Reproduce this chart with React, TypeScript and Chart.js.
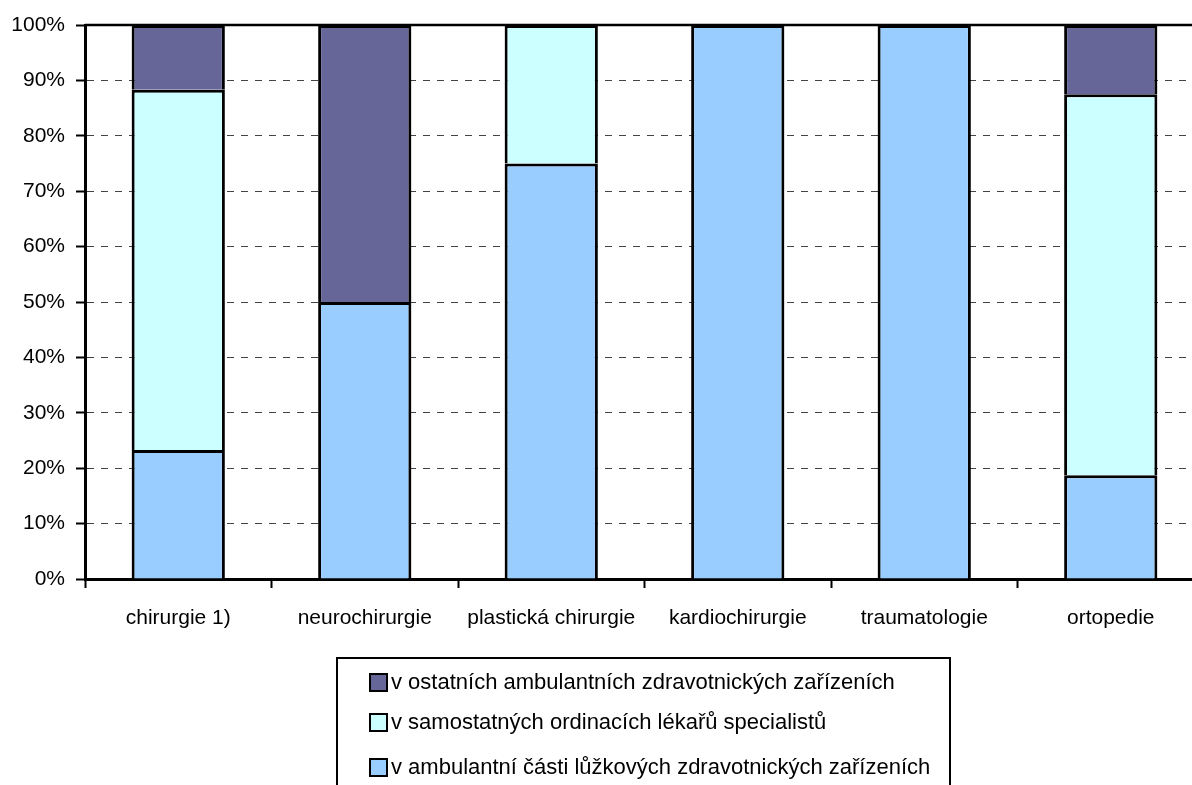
import React, { useEffect, useRef } from "react";
import { Chart, registerables } from "chart.js";

Chart.register(...registerables);

const categories = [
  "chirurgie 1)",
  "neurochirurgie",
  "plastická chirurgie",
  "kardiochirurgie",
  "traumatologie",
  "ortopedie",
];

const seriesLabels = [
  "v ambulantní části lůžkových zdravotnických zařízeních",
  "v samostatných ordinacích lékařů specialistů",
  "v ostatních ambulantních zdravotnických zařízeních",
];

const ambulantniCastiValues = [23.3, 50, 75, 100, 100, 18.75];
const samostatnychValues = [65.0, 0, 25, 0, 0, 68.75];
const ostatnichValues = [11.7, 50, 0, 0, 0, 12.5];

const seriesColors = ["#99CCFF", "#CCFFFF", "#666699"];

const yTicks = [0, 10, 20, 30, 40, 50, 60, 70, 80, 90, 100];

const FONT = '"Liberation Sans", Arial, sans-serif';

const nz = (arr: number[]) => arr.map((v) => (v === 0 ? null : v));

const BAR_BORDER = { top: 3, left: 3, right: 3, bottom: 0 };

const legendPlugin = {
  id: "boxLegend",
  afterDraw(chart: any) {
    const ctx = chart.ctx;
    const ca = chart.chartArea;
    ctx.save();
    // top border of plot area
    ctx.strokeStyle = "#000";
    ctx.lineWidth = 2.5;
    ctx.beginPath();
    ctx.moveTo(ca.left, ca.top);
    ctx.lineTo(chart.width, ca.top);
    ctx.stroke();

    // legend box
    const bx = 337;
    const by = 658;
    const bw = 613;
    const bh = 160;
    ctx.lineWidth = 2;
    ctx.strokeRect(bx, by, bw, bh);

    const ds = chart.data.datasets.slice().reverse();
    const rowY = [682, 722, 767];
    ctx.font = "22px " + FONT;
    ctx.textBaseline = "middle";
    ctx.textAlign = "left";
    ds.forEach((d: any, i: number) => {
      const y = rowY[i];
      ctx.fillStyle = d.backgroundColor;
      ctx.fillRect(370, y - 8, 17, 17);
      ctx.strokeStyle = "#000";
      ctx.lineWidth = 2;
      ctx.strokeRect(370, y - 8, 17, 17);
      ctx.fillStyle = "#000";
      ctx.fillText(d.label, 391, y + 1);
    });
    ctx.restore();
  },
};

export default function App() {
  const canvasRef = useRef<HTMLCanvasElement | null>(null);

  useEffect(() => {
    const canvas = canvasRef.current;
    if (!canvas) return;
    Chart.defaults.font.family = FONT;
    Chart.defaults.color = "#000";
    const chart = new Chart(canvas, {
      type: "bar",
      data: {
        labels: categories,
        datasets: [
          {
            label: seriesLabels[0],
            data: nz(ambulantniCastiValues),
            backgroundColor: seriesColors[0],
            borderColor: "#000",
            borderWidth: BAR_BORDER,
          },
          {
            label: seriesLabels[1],
            data: nz(samostatnychValues),
            backgroundColor: seriesColors[1],
            borderColor: "#000",
            borderWidth: BAR_BORDER,
          },
          {
            label: seriesLabels[2],
            data: nz(ostatnichValues),
            backgroundColor: seriesColors[2],
            borderColor: "#000",
            borderWidth: BAR_BORDER,
          },
        ],
      },
      options: {
        responsive: false,
        animation: false,
        layout: { padding: { top: 25, left: 0, right: 6, bottom: 0 } },
        datasets: {
          bar: { barPercentage: 0.5, categoryPercentage: 1.0 },
        },
        plugins: {
          legend: { display: false },
          tooltip: { enabled: false },
        },
        scales: {
          x: {
            stacked: true,
            afterFit: (s: any) => {
              s.height = 206;
            },
            grid: {
              offset: true,
              drawOnChartArea: false,
              drawTicks: true,
              tickLength: 9,
              tickColor: "#000",
              tickWidth: 2,
            },
            border: { color: "#000", width: 3 },
            ticks: {
              font: { size: 21, family: FONT },
              color: "#000",
              padding: 18,
              maxRotation: 0,
              autoSkip: false,
            },
          },
          y: {
            stacked: true,
            min: 0,
            max: 100,
            afterFit: (s: any) => {
              s.width = 85;
            },
            afterBuildTicks: (s: any) => {
              s.ticks = yTicks.map((v) => ({ value: v }));
            },
            grid: {
              color: "#444",
              lineWidth: 1,
              drawTicks: true,
              tickLength: 9,
              tickColor: "#000",
              tickWidth: 2,
            },
            border: { color: "#000", width: 3, dash: [7, 7] },
            ticks: {
              font: { size: 21, family: FONT },
              color: "#000",
              padding: 11,
              callback: (v: any) => v + "%",
            },
          },
        },
      },
      plugins: [legendPlugin],
    });
    return () => chart.destroy();
  }, []);

  return (
    <div
      style={{
        position: "fixed",
        left: 0,
        top: 0,
        width: 1192,
        height: 785,
        overflow: "hidden",
        background: "#fff",
      }}
    >
      <canvas ref={canvasRef} width={1210} height={785} />
    </div>
  );
}
